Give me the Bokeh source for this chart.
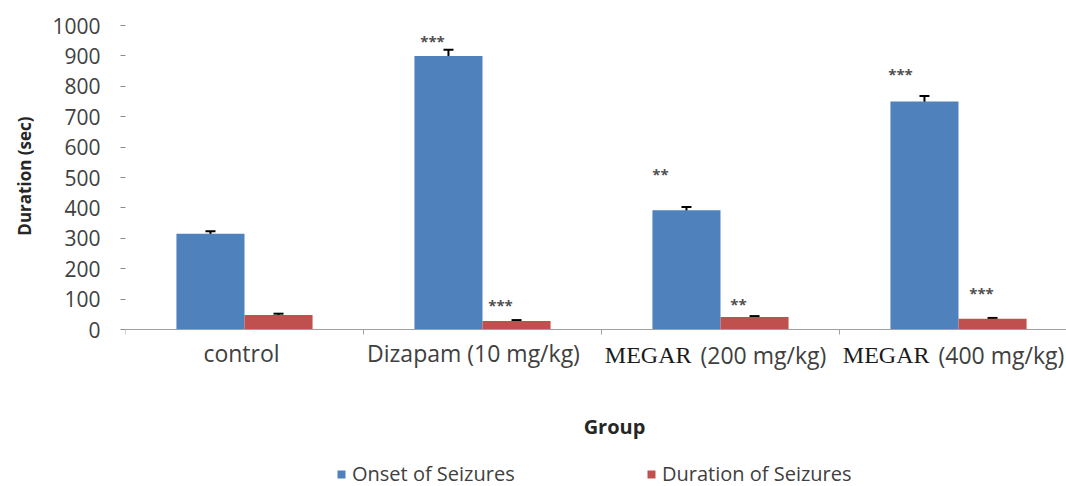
from bokeh.plotting import figure
from bokeh.models import (ColumnDataSource, Whisker, TeeHead, Label, Legend,
                          LegendItem, FixedTicker, Range1d, Title)
from bokeh.embed import file_html
from bokeh.resources import INLINE

# ---------------- data ----------------
groups = ["control", "Dizapam (10 mg/kg)", "MEGAR (200 mg/kg)", "MEGAR (400 mg/kg)"]
onset = [315, 900, 392, 750]
onset_err = [8, 20, 11, 18]
duration = [48, 28, 41, 35]
duration_err = [4, 3, 3, 3]
onset_sig = ["", "***", "**", "***"]
duration_sig = ["", "***", "**", "***"]
series_names = ["Onset of Seizures", "Duration of Seizures"]
y_ticks = [0, 100, 200, 300, 400, 500, 600, 700, 800, 900, 1000]
x_title = "Group"
y_title = "Duration (sec)"

# ---------------- style ----------------
BLUE = "#4F81BD"
RED = "#C0504D"
TXT = "#404040"
SANS = "Open Sans"
SERIF = "Liberation Serif"
bar_w = 0.286
LEFT = 125
W, H = 1066, 486
ZERO_PX, TOP_PX = 329, 25          # page rows of the 0 and 1000 levels
PX = (ZERO_PX - TOP_PX) / 1000.0    # pixels per unit
# asterisk placement (screen px offsets from error-bar top)
onset_sig_off = [(0, 0), (-16, 9), (-26, 33), (-24, 22)]
duration_sig_off = [(0, 0), (-16, 15), (-16, 12), (-11, 25)]
label_dx = [-3, -9, 0, 0]

n = len(groups)
xc = [i + 0.5 for i in range(n)]
x_on = [c - bar_w / 2 for c in xc]
x_du = [c + bar_w / 2 for c in xc]

p = figure(width=W, height=H, output_backend="svg", toolbar_location=None, title=None,
           x_range=Range1d(0, (W - LEFT) / 238.0),
           y_range=Range1d(-(H - ZERO_PX) / PX, ZERO_PX / PX),
           min_border_left=LEFT, min_border_right=0, min_border_top=0, min_border_bottom=0)
p.outline_line_color = None
p.grid.visible = False

src_on = ColumnDataSource(dict(x=x_on, top=onset, up=[v + e for v, e in zip(onset, onset_err)],
                               lo=[v - e for v, e in zip(onset, onset_err)]))
src_du = ColumnDataSource(dict(x=x_du, top=duration, up=[v + e for v, e in zip(duration, duration_err)],
                               lo=[v - e for v, e in zip(duration, duration_err)]))

r_on = p.vbar(x="x", top="top", width=bar_w, source=src_on, fill_color=BLUE, line_color=None)
r_du = p.vbar(x="x", top="top", width=bar_w, source=src_du, fill_color=RED, line_color=None)

for src in (src_on, src_du):
    w = Whisker(source=src, base="x", upper="up", lower="lo", line_color="black", line_width=2,
                upper_head=TeeHead(size=10, line_width=2, line_color="black"),
                lower_head=TeeHead(size=10, line_width=2, line_color="black"))
    p.add_layout(w)

# significance marks
for vals, errs, sigs, xs, offs in ((onset, onset_err, onset_sig, x_on, onset_sig_off),
                                   (duration, duration_err, duration_sig, x_du, duration_sig_off)):
    for v, e, s, x, (dx, dy) in zip(vals, errs, sigs, xs, offs):
        if s:
            p.add_layout(Label(x=x, y=v + e, text=s, x_offset=dx, y_offset=dy,
                               text_align="center", text_baseline="middle",
                               text_font=SANS, text_font_size="15px", text_color="#505050",
                               text_font_style="bold"))

# y axis
yax = p.yaxis[0]
yax.ticker = FixedTicker(ticks=y_ticks)
yax.axis_line_color = None
yax.major_tick_line_color = "#8c8c8c"
yax.major_tick_in = 0
yax.major_tick_out = 5
yax.minor_tick_line_color = None
yax.major_label_standoff = 20
yax.major_label_text_font = SANS
yax.major_label_text_font_size = "21px"
yax.major_label_text_color = TXT

# y title (placed beside the 0..1000 span)
p.add_layout(Title(text=y_title, align="right", offset=116, vertical_align="top",
                   text_font=SANS, text_font_style="bold", text_font_size="17px",
                   text_color="#262626", standoff=24), "left")

# x axis drawn at value 0
xax = p.xaxis[0]
xax.fixed_location = 0
xax.ticker = FixedTicker(ticks=[], minor_ticks=list(range(n + 1)))
xax.axis_line_color = "#a0a0a0"
xax.axis_line_width = 1
xax.major_tick_line_color = None
xax.minor_tick_line_color = "#a0a0a0"
xax.minor_tick_in = 0
xax.minor_tick_out = 5
xax.major_label_standoff = 0
xax.major_label_text_font_size = "0px"

# category labels (MEGAR in a serif face as in the original)
for g, c, dx in zip(groups, xc, label_dx):
    if g.startswith("MEGAR"):
        head, rest = "MEGAR", g[len("MEGAR"):].strip()
        p.add_layout(Label(x=c, y=132, y_units="screen", x_offset=-29, text=head,
                           text_align="right", text_baseline="alphabetic",
                           text_font=SERIF, text_font_size="24px", text_color="#1a1a1a"))
        p.add_layout(Label(x=c, y=132, y_units="screen", x_offset=-20, text=rest,
                           text_align="left", text_baseline="alphabetic",
                           text_font=SANS, text_font_size="23px", text_color=TXT))
    else:
        p.add_layout(Label(x=c, y=134, y_units="screen", x_offset=dx, text=g,
                           text_align="center", text_baseline="alphabetic",
                           text_font=SANS, text_font_size="23px", text_color=TXT))

p.add_layout(Label(x=489, y=60, x_units="screen", y_units="screen", text=x_title,
                   text_align="center", text_baseline="middle", text_font=SANS,
                   text_font_style="bold", text_font_size="20px", text_color="#262626"))

for name, r, lx in ((series_names[0], r_on, 211), (series_names[1], r_du, 521)):
    lg = Legend(items=[LegendItem(label=name, renderers=[r])], location=(lx, -1),
                orientation="horizontal", margin=0, padding=0, border_line_color=None,
                background_fill_alpha=0, glyph_width=10, glyph_height=10, label_standoff=6,
                label_text_font=SANS, label_text_font_size="20px", label_text_color=TXT,
                label_height=20)
    p.add_layout(lg, "center")

open("out.html", "w").write(file_html(p, INLINE))
